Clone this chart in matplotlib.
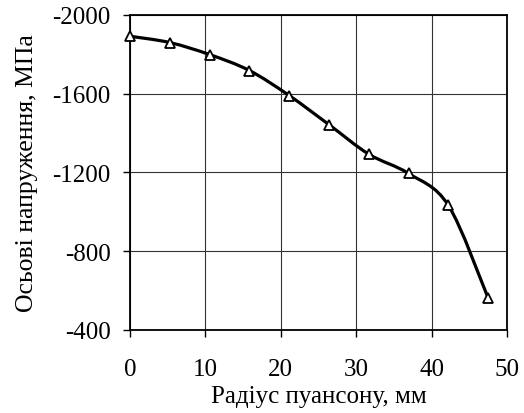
import numpy as np
import matplotlib
matplotlib.use('Agg')
import matplotlib.pyplot as plt
from matplotlib.path import Path
from matplotlib.patches import PathPatch

# радіус пуансону, мм / осьові напруження, МПа
radius = [0.0, 5.28, 10.56, 15.83, 21.11, 26.39, 31.67, 36.94, 42.22, 47.5]
stress = [-1892, -1860, -1799, -1718, -1591, -1443, -1293, -1195, -1033, -562]


def smooth_path(xs, ys):
    # Catmull-Rom curve through the points, as cubic Bezier segments
    pts = np.column_stack([xs, ys]).astype(float)
    n = len(pts)
    verts = [pts[0]]
    codes = [Path.MOVETO]
    for i in range(n - 1):
        p0 = pts[i - 1] if i > 0 else pts[i]
        p1 = pts[i]
        p2 = pts[i + 1]
        p3 = pts[i + 2] if i + 2 < n else pts[i + 1]
        c1 = p1 + (p2 - p0) / 6.0
        c2 = p2 - (p3 - p1) / 6.0
        verts.extend([c1, c2, p2])
        codes.extend([Path.CURVE4] * 3)
    return Path(verts, codes)


plt.rcParams['font.family'] = ['Liberation Serif', 'DejaVu Serif']
plt.rcParams['font.size'] = 18
plt.rcParams['axes.unicode_minus'] = False

fig = plt.figure(figsize=(5.24, 4.14), dpi=100)
ax = fig.add_axes([0.248, 0.2005, 0.7196, 0.7609])

ax.add_patch(PathPatch(smooth_path(radius, stress), facecolor='none',
                       edgecolor='black', lw=2.3, zorder=3))
ax.plot(radius, stress, ls='none', marker='^', ms=7.5, mfc='white',
        mec='black', mew=1.3, zorder=4, clip_on=False)

ax.set_xlim(0, 50)
ax.set_ylim(-400, -2000)
ax.set_xticks(range(0, 51, 10))
ax.set_yticks(range(-2000, -399, 400))
ax.grid(True, color='#333333', lw=0.8)
ax.set_axisbelow(True)
ax.tick_params(axis='y', direction='out', length=5, width=1, pad=9)
ax.tick_params(axis='x', direction='out', length=5, width=1, pad=15)
for s in ax.spines.values():
    s.set_linewidth(1.3)

ax.set_xlabel('Радіус пуансону, мм', labelpad=4)
ax.set_ylabel('Осьові напруження, МПа', fontsize=18.5, labelpad=10)

fig.savefig('out.png', dpi=100)
